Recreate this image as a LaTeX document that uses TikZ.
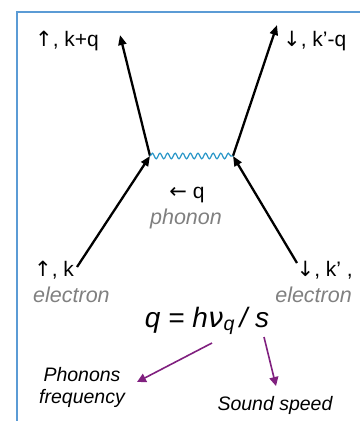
\documentclass[tikz,border=0pt]{standalone}
\usepackage{fontspec}
\setmainfont{Liberation Sans}
\newfontfamily\symfont{DejaVu Sans}
\usetikzlibrary{arrows.meta,decorations.pathmorphing}
\definecolor{framebl}{RGB}{91,155,213}
\definecolor{wavebl}{RGB}{40,150,200}
\definecolor{purp}{RGB}{128,32,127}
\definecolor{labgray}{RGB}{128,128,128}
\tikzset{
  lab/.style={inner sep=0pt,font=\fontsize{21}{22}\selectfont},
  glab/.style={inner sep=0pt,font=\fontsize{21.5}{23}\selectfont\itshape,text=labgray},
  plab/.style={inner sep=0pt,font=\fontsize{19.5}{22}\selectfont\itshape,align=center},
  elec/.style={line width=2.3pt,-{Triangle[length=10pt,width=8pt]}},
  parr/.style={purp,line width=1.6pt,-{Triangle[length=9pt,width=9pt]}},
  wave/.style={wavebl,line width=1.2pt,decorate,decoration={snake,amplitude=2.8pt,segment length=7.6pt}}
}
\begin{document}
\begin{tikzpicture}[x=1pt,y=-1pt]
\useasboundingbox (0,0) rectangle (363,421);
\begin{scope}
\clip (0,0) rectangle (363,421);
\coordinate (fbl) at (17,425);
\coordinate (ftl) at (17,12);
\coordinate (ftr) at (360,12);
\draw[framebl,line width=1.6pt] (fbl) -- (ftl) -- (ftr);
\end{scope}
% vertices
\coordinate (v1) at (150,156);
\coordinate (v2) at (233,156);
\coordinate (inL) at (77,267);
\coordinate (inR) at (297,263);
\coordinate (outL) at (120,35);
\coordinate (outR) at (277,25);
\draw[elec] (inL) -- (v1);
\draw[elec] (v1) -- (outL);
\draw[elec] (inR) -- (v2);
\draw[elec] (v2) -- (outR);
\draw[wave] (v1) -- (v2);
% labels
\node[lab,anchor=west] (tl) at (35,41) {{\symfont ↑}, k+q};
\node[lab,anchor=west] (tr) at (283,41) {{\symfont ↓}, k’-q};
\node[lab] (q) at (187,195) {{\symfont ←} q};
\node[glab] (ph) at (186,219) {phonon};
\node[lab,anchor=west] (bl) at (34,270) {{\symfont ↑}, k};
\node[glab,anchor=west] (el) at (33,295) {electron};
\node[lab,anchor=east] (br) at (353,270) {{\symfont ↓}, k’ ,};
\node[glab,anchor=east] (er) at (352,295) {electron};
\node[inner sep=0pt,font=\fontsize{28}{30}\selectfont\itshape] (eq) at (207,321) {q = h{\symfont\itshape ν}\textsubscript{q}\,/ s};
\coordinate (pa1) at (212,343);
\coordinate (pa2) at (264,337);
\coordinate (pt1) at (137,382);
\coordinate (pt2) at (276,386);
\node[plab] (pf) at (82,387) {Phonons\\frequency};
\node[plab] (ss) at (275,405) {Sound speed};
\draw[parr] (pa1) -- (pt1);
\draw[parr] (pa2) -- (pt2);
\end{tikzpicture}
\end{document}
